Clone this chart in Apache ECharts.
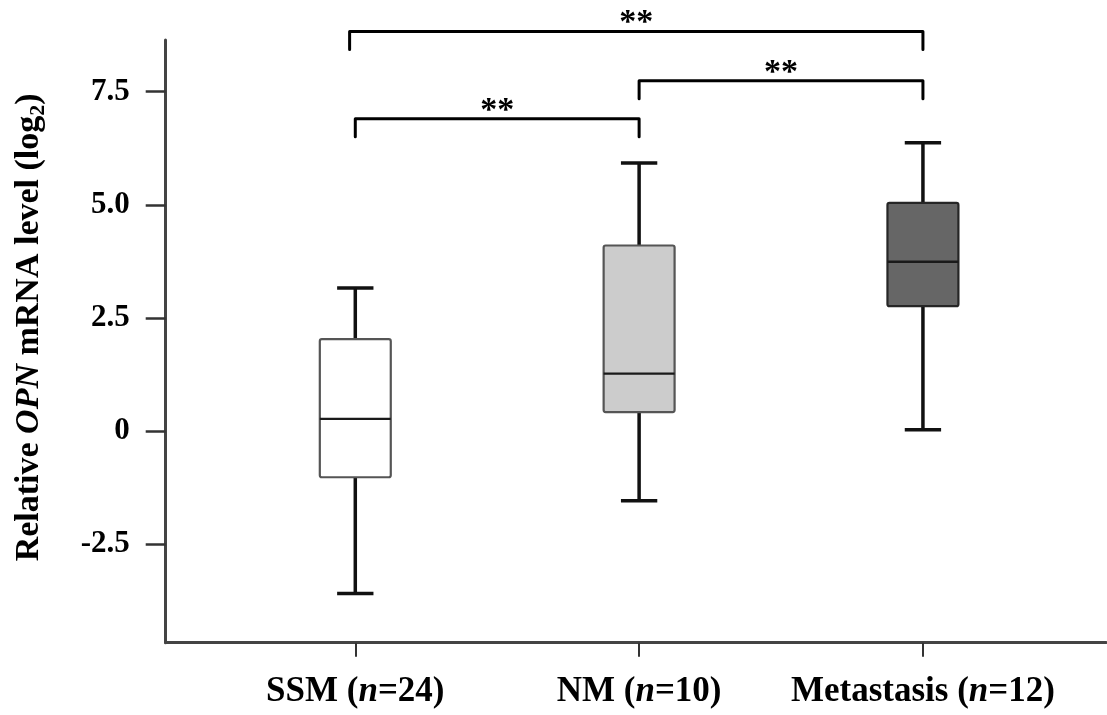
<!DOCTYPE html>
<html>
<head>
<meta charset="utf-8">
<script src="https://cdn.jsdelivr.net/npm/echarts@6/dist/echarts.min.js"></script>
<style>
  html, body { margin: 0; padding: 0; background: #ffffff; }
  #chart { width: 1107px; height: 715px; }
</style>
</head>
<body>
<div id="chart"></div>
<script>
// ---- data ----
const categories = ['SSM', 'NM', 'Metastasis'];
const sampleSizes = [24, 10, 12];
const whiskerLow = [-3.59, -1.54, 0.03];
const quartile1 = [-1.02, 0.42, 2.76];
const medians = [0.27, 1.27, 3.74];
const quartile3 = [2.03, 4.10, 5.04];
const whiskerHigh = [3.16, 5.92, 6.37];
const boxColors = ['#ffffff', '#cccccc', '#666666'];
const yTicks = [-2.5, 0, 2.5, 5, 7.5];
const yTickLabels = ['-2.5', '0', '2.5', '5.0', '7.5'];
// comparisons: [from group, to group, bracket level]
const compFrom = [1, 2, 0.98];
const compTo = [2, 3, 3];
const compLevel = [6.90, 7.74, 8.83];
const compLabels = ['**', '**', '**'];

const FONT = "'Liberation Serif', 'Times New Roman', serif";

const boxData = categories.map((c, i) => [i + 1, whiskerLow[i], quartile1[i], medians[i], quartile3[i], whiskerHigh[i], i]);
const bracketData = compFrom.map((f, i) => [f, compTo[i], compLevel[i], i]);

const chart = echarts.init(document.getElementById('chart'), null, { renderer: 'canvas' });

const option = {
  backgroundColor: '#ffffff',
  animation: false,
  grid: { left: 165.7, right: 1, top: 40, bottom: 72.3, containLabel: false, outerBoundsMode: 'none' },
  xAxis: {
    type: 'value',
    min: 0.332,
    max: 3.645,
    splitLine: { show: false },
    axisLine: { show: true, onZero: false, lineStyle: { color: '#444444', width: 3 } },
    axisTick: { show: true, customValues: [1, 2, 3], length: 14, lineStyle: { color: '#333333', width: 2 } },
    axisLabel: {
      show: true,
      customValues: [1, 2, 3],
      margin: 32,
      formatter: function (v) {
        const i = Math.round(v) - 1;
        return '{b|' + categories[i] + ' (}{i|n}{b|=' + sampleSizes[i] + ')}';
      },
      rich: {
        b: { fontFamily: FONT, fontWeight: 'bold', fontSize: 35, color: '#000' },
        i: { fontFamily: FONT, fontWeight: 'bold', fontStyle: 'italic', fontSize: 35, color: '#000' }
      }
    }
  },
  yAxis: {
    type: 'value',
    min: -4.675,
    max: 8.64,
    splitLine: { show: false },
    axisLine: { show: true, onZero: false, lineStyle: { color: '#444444', width: 3 } },
    axisTick: { show: true, customValues: yTicks, length: 20, lineStyle: { color: '#333333', width: 2.5 } },
    axisLabel: {
      show: true,
      customValues: yTicks,
      margin: 36,
      fontFamily: FONT,
      fontWeight: 'bold',
      fontSize: 31,
      color: '#000',
      formatter: function (v) {
        const k = yTicks.findIndex(t => Math.abs(t - v) < 1e-6);
        return k >= 0 ? yTickLabels[k] : '';
      }
    },
    name: '{a|Relative }{i|OPN}{a| mRNA level (log}{s|2}{a|)}',
    nameLocation: 'middle',
    nameGap: 116,
    nameRotate: 90,
    nameTextStyle: {
      padding: [0, 0, 0, 28],
      rich: {
        a: { fontFamily: FONT, fontWeight: 'bold', fontSize: 34, color: '#000', lineHeight: 41 },
        i: { fontFamily: FONT, fontWeight: 'bold', fontStyle: 'italic', fontSize: 34, color: '#000', lineHeight: 41 },
        s: { fontFamily: FONT, fontWeight: 'bold', fontSize: 22, color: '#000', lineHeight: 41, verticalAlign: 'bottom' }
      }
    }
  },
  series: [
    {
      type: 'custom',
      name: 'boxes',
      clip: false,
      data: boxData,
      encode: { x: 0, y: [1, 2, 3, 4, 5] },
      renderItem: function (params, api) {
        const x = api.value(0);
        const idx = api.value(6);
        const pLow = api.coord([x, api.value(1)]);
        const pQ1 = api.coord([x, api.value(2)]);
        const pMed = api.coord([x, api.value(3)]);
        const pQ3 = api.coord([x, api.value(4)]);
        const pHigh = api.coord([x, api.value(5)]);
        const halfW = api.size([0.25, 0])[0] / 2;
        const capHalf = api.size([0.128, 0])[0] / 2;
        const cx = pMed[0];
        const whiskerStyle = { stroke: '#111111', lineWidth: 3.5, fill: null };
        const strokeCol = idx === 2 ? '#262626' : '#555555';
        return {
          type: 'group',
          children: [
            { type: 'line', shape: { x1: cx, y1: pQ3[1], x2: cx, y2: pHigh[1] }, style: whiskerStyle },
            { type: 'line', shape: { x1: cx - capHalf, y1: pHigh[1], x2: cx + capHalf, y2: pHigh[1] }, style: whiskerStyle },
            { type: 'line', shape: { x1: cx, y1: pQ1[1], x2: cx, y2: pLow[1] }, style: whiskerStyle },
            { type: 'line', shape: { x1: cx - capHalf, y1: pLow[1], x2: cx + capHalf, y2: pLow[1] }, style: whiskerStyle },
            {
              type: 'rect',
              shape: { x: cx - halfW, y: pQ3[1], width: 2 * halfW, height: pQ1[1] - pQ3[1], r: 2 },
              style: { fill: boxColors[idx], stroke: strokeCol, lineWidth: 2.2 }
            },
            { type: 'line', shape: { x1: cx - halfW, y1: pMed[1], x2: cx + halfW, y2: pMed[1] }, style: { stroke: '#1a1a1a', lineWidth: 2.4 } }
          ]
        };
      }
    },
    {
      type: 'custom',
      name: 'brackets',
      clip: false,
      data: bracketData,
      encode: { x: [0, 1], y: 2 },
      renderItem: function (params, api) {
        const i = api.value(3);
        const p1 = api.coord([api.value(0), api.value(2)]);
        const p2 = api.coord([api.value(1), api.value(2)]);
        const drop = 18;
        return {
          type: 'group',
          children: [
            {
              type: 'polyline',
              shape: { points: [[p1[0], p1[1] + drop], [p1[0], p1[1]], [p2[0], p2[1]], [p2[0], p2[1] + drop]] },
              style: { stroke: '#000000', lineWidth: 3, fill: null, lineJoin: 'round', lineCap: 'round' }
            },
            {
              type: 'text',
              style: {
                x: (p1[0] + p2[0]) / 2,
                y: p1[1] - 8,
                text: compLabels[i],
                fontFamily: FONT,
                fontWeight: 'bold',
                fontSize: 34,
                fill: '#000',
                align: 'center',
                verticalAlign: 'middle'
              }
            }
          ]
        };
      }
    }
  ]
};

chart.setOption(option);
</script>
</body>
</html>
